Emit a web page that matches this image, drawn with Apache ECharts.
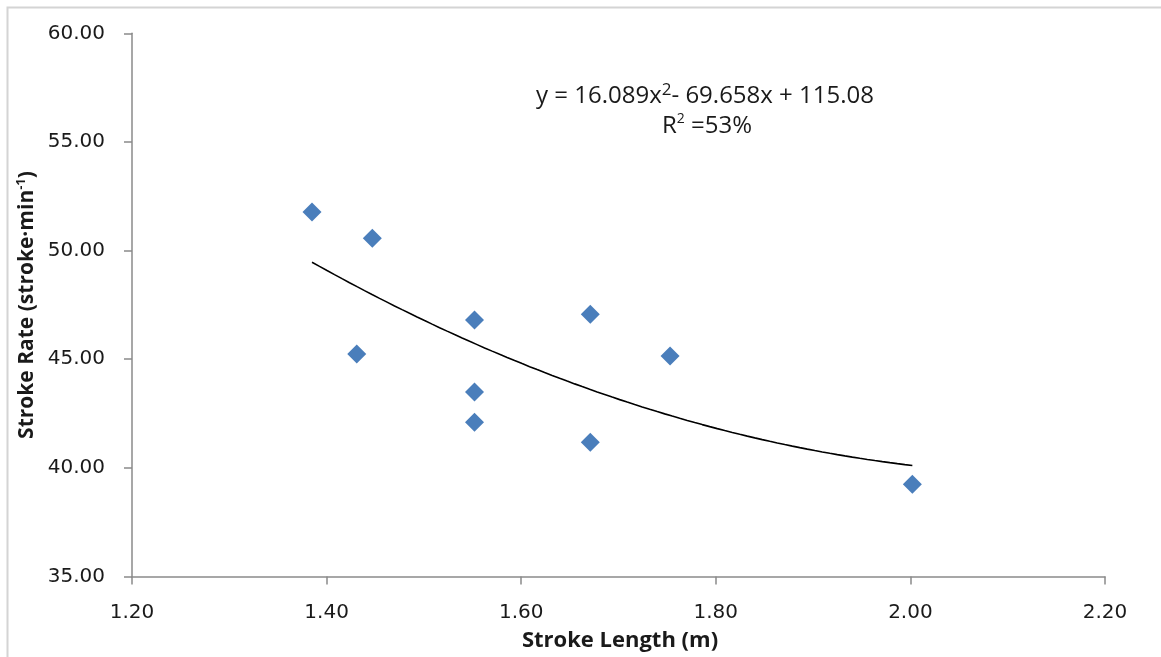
<!DOCTYPE html>
<html>
<head>
<meta charset="utf-8">
<script src="https://cdn.jsdelivr.net/npm/echarts@6/dist/echarts.min.js"></script>
<style>
  html, body { margin: 0; padding: 0; background: #ffffff; }
  #chart { width: 1161px; height: 657px; }
</style>
</head>
<body>
<div id="chart"></div>
<script>
// Stroke length (m) vs stroke rate (stroke·min⁻¹) per rower
const strokeLength = [1.385, 1.447, 1.431, 1.552, 1.552, 1.552, 1.671, 1.671, 1.753, 2.002];
const strokeRate   = [51.78, 50.57, 45.24, 46.81, 43.49, 42.10, 47.07, 41.18, 45.15, 39.25];

// Quadratic trend: y = a·x² + b·x + c
const trendCoef = [16.089, -69.658, 115.08];
const rSquared = '53%';

// Axis ranges: [min, max, interval]
const xRange = [1.2, 2.2, 0.2];
const yRange = [35, 60, 5];

const xTitle = 'Stroke Length (m)';
const yTitleMain = 'Stroke Rate (stroke·min';
const yTitleSup = '-1';
const yTitleEnd = ')';

const scatterData = strokeLength.map((x, i) => [x, strokeRate[i]]);

// trend curve spans the observed stroke lengths
const xLo = Math.min(...strokeLength);
const xHi = Math.max(...strokeLength);
const trendData = [];
const steps = 80;
for (let i = 0; i <= steps; i++) {
  const x = xLo + (xHi - xLo) * i / steps;
  trendData.push([x, trendCoef[0] * x * x + trendCoef[1] * x + trendCoef[2]]);
}

const abs = v => Math.abs(v).toString();
// rich-text equation with a raised exponent
const eqText = 'y = ' + abs(trendCoef[0]) + 'x{sup|2}- ' + abs(trendCoef[1]) + 'x + ' + abs(trendCoef[2]);

const chart = echarts.init(document.getElementById('chart'), null, { renderer: 'canvas' });

const axisLineStyle = { color: '#8a8a8a', width: 1.5 };
const labelStyle = { fontFamily: 'DejaVu Sans', fontSize: 20, color: '#1a1a1a' };
const titleFont = '"Open Sans", Lato, sans-serif';

chart.setOption({
  animation: false,
  backgroundColor: '#ffffff',
  grid: { left: 132, right: 56, top: 33.3, bottom: 80.5, containLabel: false },
  xAxis: {
    type: 'value',
    min: xRange[0], max: xRange[1], interval: xRange[2],
    axisLine: { show: true, lineStyle: axisLineStyle },
    axisTick: { show: true, length: 8, inside: false, lineStyle: axisLineStyle },
    splitLine: { show: false },
    axisLabel: Object.assign({ margin: 26, formatter: v => v.toFixed(2) }, labelStyle)
  },
  yAxis: {
    type: 'value',
    min: yRange[0], max: yRange[1], interval: yRange[2],
    axisLine: { show: true, lineStyle: axisLineStyle },
    axisTick: { show: true, length: 8, inside: false, lineStyle: axisLineStyle },
    splitLine: { show: false },
    axisLabel: Object.assign({ margin: 27, formatter: v => v.toFixed(2) }, labelStyle)
  },
  series: [
    {
      type: 'line',
      data: trendData,
      showSymbol: false,
      smooth: false,
      lineStyle: { color: '#000000', width: 1.6 },
      z: 2
    },
    {
      type: 'scatter',
      data: scatterData,
      symbol: 'diamond',
      symbolSize: 19,
      itemStyle: { color: '#4a7ebb', opacity: 1 },
      z: 3
    }
  ],
  graphic: [
    {
      type: 'rect',
      shape: { x: 7.5, y: 7.5, width: 1170, height: 670 },
      style: { fill: 'none', stroke: '#d4d4d4', lineWidth: 2 },
      silent: true, z: -1
    },
    {
      type: 'text',
      x: 620, y: 641,
      style: {
        text: xTitle, fontFamily: titleFont, fontWeight: 'bold', fontSize: 22,
        fill: '#1a1a1a', align: 'center', verticalAlign: 'middle'
      }
    },
    {
      type: 'text',
      x: 27.5, y: 305, rotation: Math.PI / 2,
      style: {
        text: yTitleMain + '{sup|' + yTitleSup + '}' + yTitleEnd,
        fontFamily: titleFont, fontWeight: 'bold', fontSize: 21, lineHeight: 26,
        fill: '#1a1a1a', align: 'center', verticalAlign: 'middle',
        rich: {
          sup: { fontFamily: titleFont, fontWeight: 'bold', fontSize: 13, lineHeight: 26, verticalAlign: 'top', fill: '#1a1a1a' }
        }
      }
    },
    {
      type: 'text',
      x: 705, y: 96,
      style: {
        text: eqText, fontFamily: titleFont, fontSize: 24, lineHeight: 28,
        fill: '#1a1a1a', align: 'center', verticalAlign: 'middle',
        rich: {
          sup: { fontFamily: titleFont, fontSize: 17, lineHeight: 28, verticalAlign: 'top', fill: '#1a1a1a' }
        }
      }
    },
    {
      type: 'text',
      x: 707, y: 126,
      style: {
        text: 'R{sup|2} =' + rSquared, fontFamily: titleFont, fontSize: 24, lineHeight: 28,
        fill: '#1a1a1a', align: 'center', verticalAlign: 'middle',
        rich: {
          sup: { fontFamily: titleFont, fontSize: 14, lineHeight: 28, verticalAlign: 'top', fill: '#1a1a1a' }
        }
      }
    }
  ]
});
</script>
</body>
</html>
